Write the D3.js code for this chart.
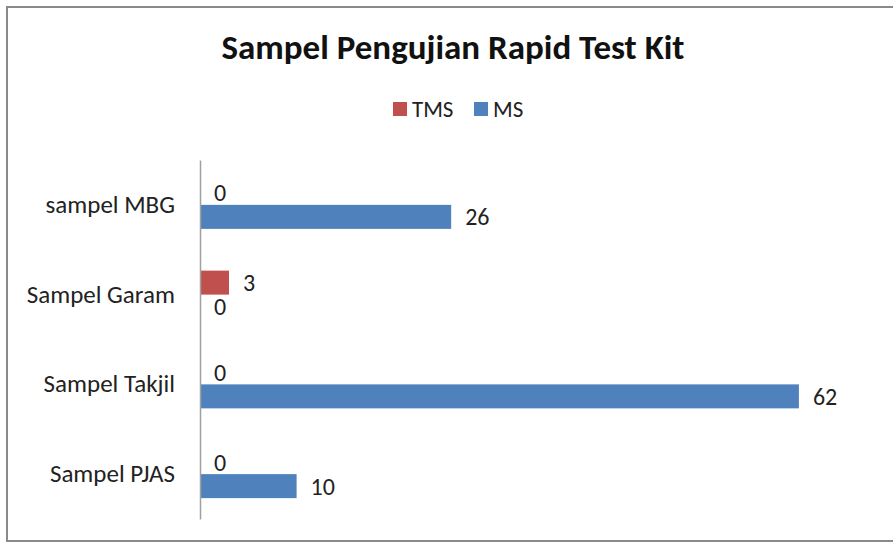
<!DOCTYPE html>
<html>
<head>
<meta charset="utf-8">
<script src="https://cdn.jsdelivr.net/npm/d3@7"></script>
<style>
  body { margin: 0; background: #fff; }
  text { font-family: Carlito, Lato, sans-serif; fill: #222; }
</style>
</head>
<body>
<div id="display"></div>
<script>
// chart data
const categories = ['sampel MBG', 'Sampel Garam', 'Sampel Takjil', 'Sampel PJAS'];
const seriesNames = ['TMS', 'MS'];
const tmsValues = [0, 3, 0, 0];
const msValues = [26, 0, 62, 10];
const colors = { TMS: '#C0504D', MS: '#4F81BD' };

const width = 893;
const height = 543;

const svg = d3.select('#display').append('svg')
    .attr('width', width)
    .attr('height', height);

// chart border
svg.append('rect')
    .attr('x', 7).attr('y', 7)
    .attr('width', 900).attr('height', 534)
    .attr('fill', '#fff')
    .attr('stroke', '#8a8a8a')
    .attr('stroke-width', 2);

// title
svg.append('text')
    .attr('x', 453).attr('y', 59)
    .attr('text-anchor', 'middle')
    .attr('font-size', 35)
    .attr('font-weight', 'bold')
    .style('fill', '#111')
    .text('Sampel Pengujian Rapid Test Kit');

const x = d3.scaleLinear().domain([0, 70]).range([200, 876.2]);
const y = d3.scaleBand().domain(categories).range([160, 519]);
const ySub = d3.scaleBand().domain(seriesNames).range([0, y.bandwidth()]).paddingOuter(0.87);

const rows = categories.map((c, i) => ({ cat: c, TMS: tmsValues[i], MS: msValues[i] }));

// bars
const group = svg.selectAll('g.cat')
    .data(rows)
    .enter().append('g')
    .attr('class', 'cat')
    .attr('transform', d => 'translate(0,' + y(d.cat) + ')');

group.selectAll('rect')
    .data(d => seriesNames.map(s => ({ s: s, v: d[s] })))
    .enter().append('rect')
    .attr('x', x(0))
    .attr('y', d => ySub(d.s))
    .attr('width', d => x(d.v) - x(0))
    .attr('height', ySub.bandwidth())
    .attr('fill', d => colors[d.s]);

group.selectAll('text.val')
    .data(d => seriesNames.map(s => ({ s: s, v: d[s] })))
    .enter().append('text')
    .attr('class', 'val')
    .attr('x', d => x(d.v) + 14)
    .attr('y', d => ySub(d.s) + ySub.bandwidth() / 2)
    .attr('dy', '0.35em')
    .attr('font-size', 24)
    .text(d => d.v);

// category axis
const axis = svg.append('g')
    .attr('transform', 'translate(' + x(0) + ',0)')
    .call(d3.axisLeft(y).tickSize(0).tickPadding(25));
axis.select('.domain').attr('stroke', '#a0a0a0').attr('stroke-width', 1.5);
axis.selectAll('text')
    .attr('font-size', 25)
    .style('font-family', 'Carlito, Lato, sans-serif')
    .style('fill', '#222');

// legend
const legend = svg.append('g');
const legendX = [393, 474];
seriesNames.forEach((s, i) => {
    legend.append('rect')
        .attr('x', legendX[i]).attr('y', 102)
        .attr('width', 14).attr('height', 14)
        .attr('fill', colors[s]);
    legend.append('text')
        .attr('x', legendX[i] + 19).attr('y', 109)
        .attr('dy', '0.35em')
        .attr('font-size', 23)
        .text(s);
});
</script>
</body>
</html>
